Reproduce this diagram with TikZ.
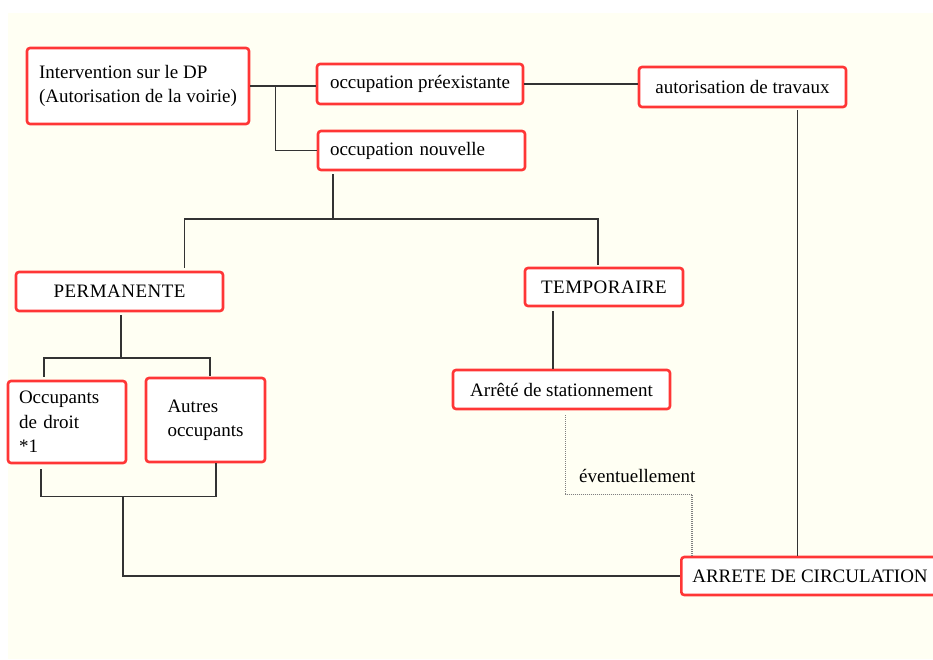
\documentclass[tikz,border=0pt]{standalone}
\usepackage{fontspec}
\setmainfont{Liberation Serif}
\usetikzlibrary{calc}
\definecolor{cream}{HTML}{FFFFF3}
\definecolor{boxred}{HTML}{FF3636}
\definecolor{conncol}{HTML}{333333}
\tikzset{
  box/.style={draw=boxred, line width=2.6pt, rounded corners=3pt, fill=white,
    font=\fontsize{19}{24.5}\selectfont, inner ysep=0pt, inner xsep=0pt, outer sep=1.3pt},
  capsbox/.style={box, font=\fontsize{19}{24.5}\selectfont\addfontfeature{LetterSpace=2.5}},
  conn/.style={draw=conncol, line width=1.6pt},
  dotconn/.style={draw=gray, line width=1.1pt, dash pattern=on 1pt off 1pt},
  lbl/.style={font=\fontsize{19}{24.5}\selectfont, inner sep=0pt}
}
\begin{document}
\begin{tikzpicture}[x=1pt,y=-1pt]
\useasboundingbox (0,0) rectangle (933,659);
\begin{scope}
\clip (0,0) rectangle (933,659);
\fill[white] (0,0) rectangle (933,659);
\fill[cream] (8,13) rectangle (933,659);

% boxes
\node[box, minimum width=222pt, minimum height=76pt, align=left] (interv) at (138,86)
  {Intervention sur le DP\\(Autorisation de la voirie)};
\node[box, minimum width=206pt, minimum height=40pt] (preex) at (420,84) {occupation préexistante};
\node[box, minimum width=207pt, minimum height=40pt] (autor) at (742.5,87) {autorisation de travaux};
\node[box, text width=183pt, inner xsep=12pt, minimum height=39pt, align=left] (nouv) at (421.5,150.5) {occupation nouvelle};
\node[capsbox, minimum width=207pt, minimum height=39pt] (perm) at (119.5,291.5) {PERMANENTE};
\node[capsbox, minimum width=158pt, minimum height=38pt] (temp) at (604,287) {TEMPORAIRE};
\node[box, text width=96pt, inner xsep=11pt, minimum height=82pt, align=left] (droit) at (67,422) {Occupants\\de droit\\\relax *1};
\node[box, minimum width=119pt, minimum height=84pt, align=left] (autres) at (205.5,420) {Autres\\occupants};
\node[box, minimum width=217pt, minimum height=39pt] (arrst) at (561.5,389.5) {Arrêté de stationnement};
\node[box, anchor=west, inner xsep=11pt, minimum height=38pt] (circ) at (680,576) {ARRETE DE CIRCULATION\hspace{14pt}};

% connectors top
\draw[conn] (interv.east) -- (interv.east -| preex.west);
\coordinate (j1) at ($(interv.east)+(25,0)$);
\draw[conn] (j1) |- (nouv.west);
\draw[conn] (preex.east) -- (preex.east -| autor.west);
\coordinate (a1) at ($(autor.south)+(55,2)$);
\draw[conn] (a1) -- (a1 |- circ.north);

% nouvelle -> permanente / temporaire
\coordinate (n1) at ($(nouv.south west)+(16,3)$);
\coordinate (pt) at ($(perm.north east)+(-40,-3)$);
\coordinate (tt) at ($(temp.north)+(-6,-2)$);
\draw[conn] (pt) -- ++(0,-49) coordinate (hl) -| (tt);
\draw[conn] (n1) -- (n1 |- hl);

% permanente -> occupants
\coordinate (p1) at ($(perm.south)+(1.5,3)$);
\coordinate (dt) at ($(droit.north west)+(37,-3)$);
\coordinate (at) at ($(autres.north west)+(65,-1)$);
\draw[conn] (dt) -- ++(0,-19) coordinate (h2) -| (at);
\draw[conn] (p1) -- (p1 |- h2);

% occupants -> arrete de circulation
\coordinate (db) at ($(droit.south west)+(34,5)$);
\coordinate (ab) at ($(autres.south west)+(71,0)$);
\draw[conn] (db) -- ++(0,27) coordinate (h3) -| (ab);
\path (h3) -- (h3 -| ab) coordinate[pos=0.47] (m3);
\draw[conn] (m3) |- (circ.west);

% temporaire -> arrete de stationnement
\coordinate (t1) at ($(temp.south west)+(29,4)$);
\draw[conn] (t1) -- (t1 |- arrst.north);

% dotted eventuellement
\coordinate (s1) at ($(arrst.south west)+(114,5)$);
\coordinate (c2) at ($(circ.north west)+(12,0)$);
\draw[dotconn] (s1) -- ++(0,79) -| (c2);
\node[lbl, anchor=west] (ev) at (579,476) {éventuellement};
\end{scope}
\end{tikzpicture}
\end{document}
